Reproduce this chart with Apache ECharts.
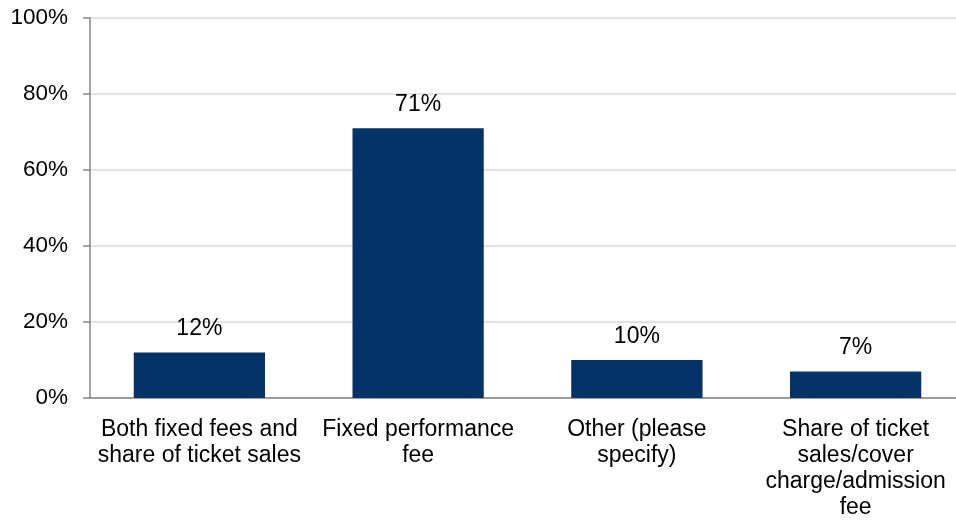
<!DOCTYPE html>
<html>
<head>
<meta charset="utf-8">
<script src="https://cdn.jsdelivr.net/npm/echarts@6/dist/echarts.min.js"></script>
<style>
  html, body { margin: 0; padding: 0; background: #fff; overflow: hidden; }
  /* the plot runs a few pixels past the right edge of the window */
  #chart { width: 965px; height: 521px; }
</style>
</head>
<body>
<div id="chart"></div>
<script>
// Payment arrangements, share of respondents (%)
const categories = [
  'Both fixed fees and\nshare of ticket sales',
  'Fixed performance\nfee',
  'Other (please\nspecify)',
  'Share of ticket\nsales/cover\ncharge/admission\nfee'
];
const shares = [12, 71, 10, 7];
const yTicks = [0, 20, 40, 60, 80, 100];

const FONT = '"Liberation Sans", Arial, sans-serif';
const chart = echarts.init(document.getElementById('chart'), null, { renderer: 'canvas' });

chart.setOption({
  animation: false,
  grid: { left: 90, right: 0, top: 18, bottom: 123, containLabel: false },
  xAxis: {
    type: 'category',
    data: categories,
    axisLine: { lineStyle: { color: '#868686', width: 1.5 } },
    axisTick: { show: false },
    axisLabel: {
      interval: 0,
      margin: 19,
      color: '#000',
      fontFamily: FONT,
      fontSize: 23,
      lineHeight: 26
    },
    splitLine: { show: false }
  },
  yAxis: {
    type: 'value',
    min: yTicks[0],
    max: yTicks[yTicks.length - 1],
    interval: yTicks[1] - yTicks[0],
    axisLine: { show: true, lineStyle: { color: '#868686', width: 1.5 } },
    axisTick: { show: true, length: 7, lineStyle: { color: '#868686', width: 1.5 } },
    axisLabel: {
      margin: 22,
      color: '#000',
      fontFamily: FONT,
      fontSize: 22.5,
      formatter: v => v + '%'
    },
    splitLine: { lineStyle: { color: '#d9d9d6', width: 1.5 } }
  },
  series: [{
    type: 'bar',
    data: shares,
    barWidth: '60%',
    itemStyle: { color: '#033366' },
    label: {
      show: true,
      position: 'top',
      distance: 12,
      color: '#000',
      fontFamily: FONT,
      fontSize: 23,
      formatter: p => p.value + '%'
    }
  }]
});
</script>
</body>
</html>
